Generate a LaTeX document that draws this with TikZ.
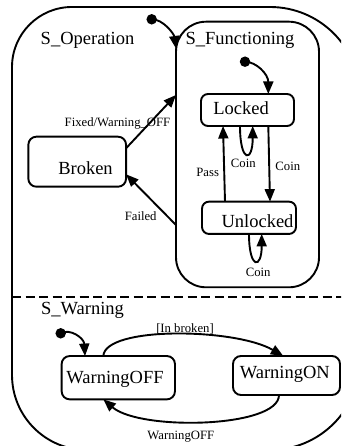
\documentclass[tikz,border=0pt]{standalone}
\usepackage{fontspec}
\setmainfont{Liberation Serif}
\usetikzlibrary{arrows.meta}
\newcommand{\ctext}[3]{\makebox[0pt]{\hspace*{#1}\hspace*{#1}\smash{\raisebox{\dimexpr#2-0.33em\relax}{#3}}}}
\begin{document}
\begin{tikzpicture}[x=1bp,y=1bp,
  line width=1.9bp,
  big/.style={font=\fontsize{18.5bp}{22bp}\selectfont},
  small/.style={font=\fontsize{12.7bp}{15bp}\selectfont},
  st/.style={draw, rounded corners=7bp, inner sep=0pt, outer sep=0pt, big},
  lab/.style={inner sep=0pt, anchor=base, small},
  title/.style={inner sep=0pt, anchor=base, big},
  arr/.style={-{Triangle[length=12.5bp,width=10bp]}},
  dot/.style={circle, fill, inner sep=0pt, minimum size=10.5bp},
]
\useasboundingbox (0,0) rectangle (341,446);
\clip (0,0) rectangle (341,446);

% outer composite state
\draw (12,379) arc[start angle=180,end angle=90,radius=60] -- (270,439)
  arc[start angle=90,end angle=0,radius=90] -- (360,86)
  arc[start angle=0,end angle=-90,radius=90] -- (87,-4)
  arc[start angle=270,end angle=180,radius=75] -- cycle;
\draw[dash pattern=on 9bp off 4.5bp] (12,149) -- (360,149);

% S_Functioning
\node[draw, rounded corners=30bp, minimum width=143bp, minimum height=265.6bp, inner sep=0pt, outer sep=0pt] (sfunc) at (247.5,291.5) {};

% titles
\node[title] (tsop) at (87.5,401) {S\_Operation};
\node[title] (tsfn) at (240,401) {S\_Functioning};
\node[title] (tswa) at (82.5,131) {S\_Warning};

% states
\node[st, minimum width=93bp, minimum height=32bp] (locked) at (247.5,336) {\ctext{-6.5bp}{1.5bp}{Locked}};
\node[st, minimum width=94bp, minimum height=32.3bp] (unlocked) at (249,228.2) {\ctext{8.5bp}{-3.9bp}{Unlocked}};
\node[st, rounded corners=8bp, minimum width=97.7bp, minimum height=50bp] (broken) at (77.2,284.3) {\ctext{8.3bp}{-6.3bp}{Broken}};
\node[st, rounded corners=8bp, minimum width=113.3bp, minimum height=43.3bp] (woff) at (118.3,68.3) {\ctext{-3.3bp}{0bp}{WarningOFF}};
\node[st, rounded corners=8bp, minimum width=107bp, minimum height=39bp] (won) at (286.5,70.5) {\ctext{-1.7bp}{2.8bp}{WarningON}};

% initial dots
\node[dot] (i1) at (151.7,426.7) {};
\node[dot] (i2) at (245,384.3) {};
\node[dot] (i3) at (60.7,112.7) {};

% transitions
\draw[arr] (i1.center) .. controls (163,427) and (174,412) .. (sfunc.124.4);
\draw[arr] (i2.center) .. controls (256,384.3) and (268.3,372) .. ([xshift=20.8bp]locked.north);
\draw[arr] ([xshift=-24bp]unlocked.north) -- ([xshift=-24.5bp]locked.south);
\draw[arr] ([xshift=20.8bp]locked.south) -- ([xshift=21bp]unlocked.north);
\draw[arr] ([xshift=-7.5bp]locked.south) .. controls +(0,-37) and +(0,-37) .. ([xshift=5.2bp]locked.south);
\draw[arr] (unlocked.south) .. controls +(0,-35.6) and +(0,-35.6) .. ([xshift=12.7bp]unlocked.south);
\draw[arr] ([yshift=13.4bp]broken.east) -- ([yshift=59.5bp]sfunc.west);
\draw[arr] ([yshift=-70.5bp]sfunc.west) -- ([yshift=-12.6bp]broken.east);
\draw[arr] (i3.center) .. controls (70,118) and (84,108) .. ([xshift=-33.3bp]woff.north);
\draw[arr] ([xshift=-15bp]woff.north) .. controls (105,120) and (235,118) .. ([xshift=-3.2bp]won.north);
\draw[arr] ([xshift=-7.5bp]won.south) .. controls (279,18) and (140,15) .. ([xshift=-15bp]woff.south);

% labels
\node[lab] (lfix) at (117.5,319.3) {Fixed/Warning\_OFF};
\node[lab] (lpass) at (207.7,269.3) {Pass};
\node[lab] (lc1) at (243.3,278.3) {Coin};
\node[lab] (lc2) at (287.8,275.3) {Coin};
\node[lab] (lfail) at (140.7,225) {Failed};
\node[lab] (lc3) at (258.2,169.3) {Coin};
\node[lab] (linb) at (185,113) {[In broken]};
\node[lab] (lwoff) at (180.8,6) {WarningOFF};
\end{tikzpicture}
\end{document}
